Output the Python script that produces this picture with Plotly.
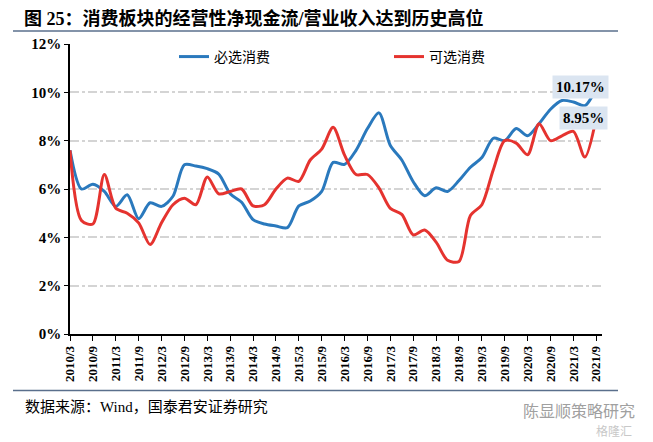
import plotly.graph_objects as go

# ---- data ----
quarters = [f"{y}/{m}" for y in range(2010, 2022) for m in (3, 6, 9, 12)][:47]
tick_labels = [f"{y}/{m}" for y in range(2010, 2022) for m in (3, 9)]

staples = [7.6, 6.0, 6.2, 5.9, 5.28, 5.76, 4.77, 5.43, 5.28, 5.7,
           7.0, 6.95, 6.84, 6.62, 5.8, 5.45, 4.73, 4.55, 4.47, 4.4,
           5.3, 5.5, 5.9, 7.1, 7.02, 7.6, 8.5, 9.15, 7.8, 7.2,
           6.3, 5.72, 6.05, 5.9, 6.35, 6.9, 7.3, 8.1, 8.0, 8.5,
           8.2, 8.7, 9.3, 9.66, 9.6, 9.45, 10.17]
discretionary = [7.6, 4.7, 4.55, 6.6, 5.2, 5.0, 4.6, 3.7, 4.6, 5.35,
                 5.62, 5.35, 6.5, 5.8, 5.9, 6.0, 5.3, 5.35, 6.0, 6.45,
                 6.32, 7.2, 7.65, 8.55, 7.4, 6.6, 6.6, 6.05, 5.2, 4.95,
                 4.1, 4.3, 3.8, 3.05, 3.0, 4.9, 5.35, 6.8, 8.0, 7.9,
                 7.42, 8.7, 8.0, 8.2, 8.38, 7.32, 8.95]

BLUE = "#2a79bd"
RED = "#e5332f"
SERIF = "Liberation Serif, Noto Sans CJK SC"

x = list(range(len(quarters)))
tickvals = [quarters.index(t) for t in tick_labels]

# plot area geometry (page is offset by the 8px body margin)
PW, PH = 532.0, 290.5
def px(X):  # screen x -> paper
    return (X - 70) / PW
def py(Y):  # screen y -> paper
    return (334.5 - Y) / PH

fig = go.Figure()
fig.add_trace(go.Scatter(x=x, y=staples, name="必选消费", mode="lines",
                         line=dict(color=BLUE, width=3, shape="spline", smoothing=0.8)))
fig.add_trace(go.Scatter(x=x, y=discretionary, name="可选消费", mode="lines",
                         line=dict(color=RED, width=3, shape="spline", smoothing=0.8)))

fig.update_layout(
    width=645, height=434,
    margin=dict(l=62, r=51, t=36, b=107.5, autoexpand=False),
    paper_bgcolor="white", plot_bgcolor="white",
    font=dict(family=SERIF, color="black"),
    legend=dict(orientation="h", x=px(174), xanchor="left", y=py(57), yanchor="middle",
                entrywidth=170, entrywidthmode="pixels",
                font=dict(size=14, family=SERIF), bgcolor="rgba(0,0,0,0)"),
    xaxis=dict(range=[0, 46.5], tickmode="array", tickvals=tickvals, ticktext=tick_labels,
               tickangle=-90, showgrid=False, showline=True, linecolor="black", linewidth=1.5,
               ticks="outside", ticklen=5, tickcolor="black", zeroline=False,
               tickfont=dict(size=13, family="Liberation Serif", color="black", weight="bold")),
    yaxis=dict(range=[0, 12], dtick=2, ticksuffix="%", showgrid=True,
               gridcolor="#d4d4d4", griddash="dashdot", gridwidth=1.5,
               showline=True, linecolor="black", linewidth=1.5, ticks="outside", ticklen=4,
               tickcolor="black", zeroline=False,
               tickfont=dict(size=15, family="Liberation Serif", color="black", weight="bold")),
)

# title and rules
fig.add_annotation(xref="paper", yref="paper", x=px(22), y=py(18), xanchor="left", yanchor="middle",
                   text="<b>图 25：消费板块的经营性净现金流/营业收入达到历史高位</b>", showarrow=False,
                   font=dict(size=18, family=SERIF, color="black"))
fig.add_shape(type="line", xref="paper", yref="paper", x0=px(13), x1=px(618),
              y0=py(31), y1=py(31), line=dict(color="#5a6f8c", width=1.5))
fig.add_shape(type="line", xref="paper", yref="paper", x0=px(13), x1=px(618),
              y0=py(391), y1=py(391), line=dict(color="#5a6f8c", width=1.5))
fig.add_annotation(xref="paper", yref="paper", x=px(23), y=py(408), xanchor="left", yanchor="middle",
                   text="数据来源：Wind，国泰君安证券研究", showarrow=False,
                   font=dict(size=15, family=SERIF, color="black"))
fig.add_annotation(xref="paper", yref="paper", x=px(521), y=py(411), xanchor="left", yanchor="middle",
                   text="陈显顺策略研究", showarrow=False,
                   font=dict(size=16, family="Noto Sans CJK SC", color="#a0a0a0"))
fig.add_annotation(xref="paper", yref="paper", x=px(594), y=py(431), xanchor="left", yanchor="middle",
                   text="格隆汇", showarrow=False,
                   font=dict(size=12, family="Noto Sans CJK SC", color="#c8c8c8"))

# value labels
fig.add_annotation(xref="paper", yref="paper", x=px(580), y=py(87.5), text=f"<b>{staples[-1]:.2f}%</b>",
                   showarrow=False, xanchor="center", yanchor="middle",
                   bgcolor="#dbe5f1", borderpad=3,
                   font=dict(size=15, family="Liberation Serif", color="black"))
fig.add_annotation(xref="paper", yref="paper", x=px(583), y=py(118), text=f"<b>{discretionary[-1]:.2f}%</b>",
                   showarrow=False, xanchor="center", yanchor="middle",
                   bgcolor="#dbe5f1", borderpad=3,
                   font=dict(size=15, family="Liberation Serif", color="black"))

fig.write_html("out.html")
